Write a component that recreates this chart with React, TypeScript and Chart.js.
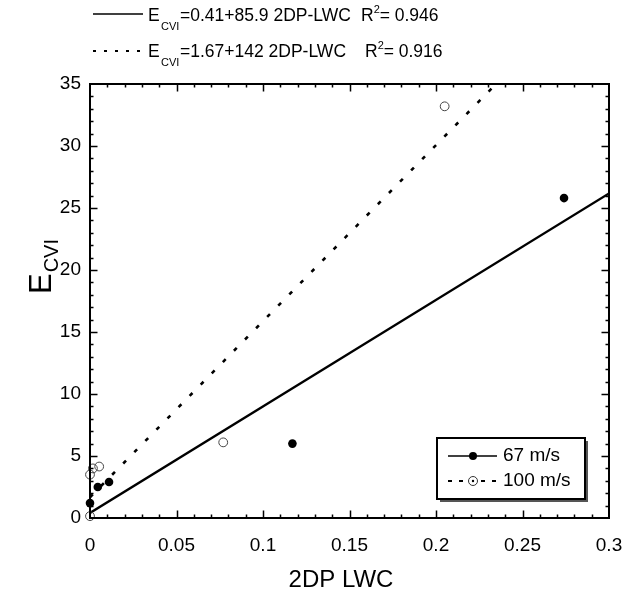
import React, { useEffect, useRef } from "react";
import { Chart, registerables } from "chart.js";

Chart.register(...registerables);

const FONT = "'Liberation Sans', Arial, Helvetica, sans-serif";

// Measured data (2DP LWC vs E_CVI)
const lwc67 = [0, 0.0045, 0.011, 0.117, 0.274];
const ecvi67 = [1.2, 2.5, 2.9, 6.0, 25.8];
const lwc100 = [0, 0, 0.0017, 0.0053, 0.077, 0.205];
const ecvi100 = [0.15, 3.5, 4.0, 4.15, 6.1, 33.2];

// Regression line end points (from the printed fits)
const fit67X = [0, 0.3];
const fit67Y = [0.41, 26.18];
const fit100X = [0, 0.2347];
const fit100Y = [1.67, 35];

// Axis ticks
const xTickValues = [0, 0.05, 0.1, 0.15, 0.2, 0.25, 0.3];
const xTickLabels = ["0", "0.05", "0.1", "0.15", "0.2", "0.25", "0.3"];
const yTickValues = [0, 5, 10, 15, 20, 25, 30, 35];
const yTickLabels = ["0", "5", "10", "15", "20", "25", "30", "35"];
const xMinorStep = 0.01;
const yMinorStep = 1;

// Texts
const seriesLabels = ["67 m/s", "100 m/s"];
const fitTexts = [
  { pre: "=0.41+85.9 2DP-LWC", r2: "= 0.946" },
  { pre: "=1.67+142 2DP-LWC", r2: "= 0.916" },
];
const xTitle = "2DP LWC";
const yTitleMain = "E";
const yTitleSub = "CVI";

function font(size: number) {
  return `${size}px ${FONT}`;
}

const decorPlugin = {
  id: "decor",
  afterDraw(chart: any) {
    const ctx = chart.ctx as CanvasRenderingContext2D;
    const { left, right, top, bottom } = chart.chartArea;
    const xs = chart.scales.x;
    const ys = chart.scales.y;
    ctx.save();
    ctx.strokeStyle = "#000";
    ctx.fillStyle = "#000";

    // frame
    ctx.lineWidth = 2;
    ctx.setLineDash([]);
    ctx.strokeRect(left, top, right - left, bottom - top);

    // ticks
    ctx.lineWidth = 1.5;
    const nx = Math.round((xs.max - xs.min) / xMinorStep);
    for (let i = 1; i < nx; i++) {
      const v = xs.min + i * xMinorStep;
      const px = Math.round(xs.getPixelForValue(v)) + 0.5;
      const major = i % 5 === 0;
      const len = major ? 7.5 : 3.5;
      ctx.beginPath();
      ctx.moveTo(px, bottom);
      ctx.lineTo(px, bottom - len);
      ctx.moveTo(px, top);
      ctx.lineTo(px, top + len);
      ctx.stroke();
    }
    const ny = Math.round((ys.max - ys.min) / yMinorStep);
    for (let i = 1; i < ny; i++) {
      const v = ys.min + i * yMinorStep;
      const py = Math.round(ys.getPixelForValue(v)) + 0.5;
      const major = i % 5 === 0;
      const len = major ? 7.5 : 3.5;
      ctx.beginPath();
      ctx.moveTo(left, py);
      ctx.lineTo(left + len, py);
      ctx.moveTo(right, py);
      ctx.lineTo(right - len, py);
      ctx.stroke();
    }

    // x title
    ctx.font = font(24);
    ctx.textAlign = "center";
    ctx.textBaseline = "alphabetic";
    ctx.fillText(xTitle, 341, 587);

    // y title (rotated)
    ctx.save();
    ctx.translate(51, 294);
    ctx.rotate(-Math.PI / 2);
    ctx.textAlign = "left";
    ctx.font = font(31);
    ctx.fillText(yTitleMain, 0, 0);
    const ew = ctx.measureText(yTitleMain).width;
    ctx.font = font(20);
    ctx.fillText(yTitleSub, ew + 1, 7);
    ctx.restore();

    // top legend (fit equations)
    const rows = [
      { y: 21, lineY: 14, dash: [] as number[], rX: 361 },
      { y: 57, lineY: 51, dash: [3, 8], rX: 365 },
    ];
    rows.forEach((row, i) => {
      ctx.lineWidth = i === 0 ? 1.5 : 2;
      ctx.setLineDash(row.dash);
      ctx.beginPath();
      ctx.moveTo(93, row.lineY);
      ctx.lineTo(143, row.lineY);
      ctx.stroke();
      ctx.setLineDash([]);
      ctx.textAlign = "left";
      ctx.font = font(17.5);
      ctx.fillText("E", 148, row.y);
      ctx.font = font(11);
      ctx.fillText("CVI", 161, row.y + 9);
      ctx.font = font(17.5);
      ctx.fillText(fitTexts[i].pre, 180, row.y);
      ctx.fillText("R", row.rX, row.y);
      const rw = ctx.measureText("R").width;
      ctx.font = font(11);
      ctx.fillText("2", row.rX + rw, row.y - 8);
      ctx.font = font(17.5);
      ctx.fillText(fitTexts[i].r2, row.rX + rw + 6, row.y);
    });

    // in-plot legend box
    const bx = 437, by = 438, bw = 148, bh = 61;
    ctx.fillStyle = "#555";
    ctx.fillRect(bx + 3, by + 3, bw, bh);
    ctx.fillStyle = "#fff";
    ctx.fillRect(bx, by, bw, bh);
    ctx.strokeStyle = "#000";
    ctx.lineWidth = 2;
    ctx.strokeRect(bx, by, bw, bh);
    ctx.fillStyle = "#000";

    // entry 1
    ctx.lineWidth = 1.5;
    ctx.beginPath();
    ctx.moveTo(448, 456);
    ctx.lineTo(497, 456);
    ctx.stroke();
    ctx.beginPath();
    ctx.arc(473, 456, 4, 0, Math.PI * 2);
    ctx.fill();
    ctx.font = font(19);
    ctx.textBaseline = "middle";
    ctx.fillText(seriesLabels[0], 503, 456);

    // entry 2
    ctx.lineWidth = 2;
    ctx.setLineDash([4, 7]);
    ctx.beginPath();
    ctx.moveTo(448, 481);
    ctx.lineTo(497, 481);
    ctx.stroke();
    ctx.setLineDash([]);
    ctx.fillStyle = "#fff";
    ctx.beginPath();
    ctx.arc(473, 481, 4.5, 0, Math.PI * 2);
    ctx.fill();
    ctx.lineWidth = 1;
    ctx.strokeStyle = "#333";
    ctx.stroke();
    ctx.fillStyle = "#000";
    ctx.beginPath();
    ctx.arc(473, 481, 1.2, 0, Math.PI * 2);
    ctx.fill();
    ctx.fillText(seriesLabels[1], 503, 481);

    ctx.restore();
  },
};

export default function App() {
  const ref = useRef<HTMLCanvasElement | null>(null);

  useEffect(() => {
    document.body.style.margin = "0";
    const canvas = ref.current;
    if (!canvas) return;

    const chart = new Chart(canvas, {
      type: "scatter",
      data: {
        datasets: [
          {
            label: seriesLabels[0],
            data: lwc67.map((x, i) => ({ x, y: ecvi67[i] })),
            backgroundColor: "#000",
            borderColor: "#000",
            pointRadius: 4.3,
            borderWidth: 0,
            showLine: false,
            clip: false,
            order: 0,
          } as any,
          {
            label: seriesLabels[1],
            data: lwc100.map((x, i) => ({ x, y: ecvi100[i] })),
            backgroundColor: "rgba(255,255,255,0)",
            borderColor: "#444",
            pointRadius: 4.4,
            borderWidth: 1,
            showLine: false,
            clip: false,
            order: 0,
          } as any,
          {
            label: "fit 67",
            data: fit67X.map((x, i) => ({ x, y: fit67Y[i] })),
            borderColor: "#000",
            borderWidth: 2.3,
            pointRadius: 0,
            showLine: true,
            order: 1,
          } as any,
          {
            label: "fit 100",
            data: fit100X.map((x, i) => ({ x, y: fit100Y[i] })),
            borderColor: "#000",
            borderWidth: 2.6,
            borderDash: [4, 11.8],
            pointRadius: 0,
            showLine: true,
            order: 1,
          } as any,
        ],
      },
      options: {
        responsive: false,
        animation: false,
        devicePixelRatio: 1,
        layout: { padding: { left: 0, right: 13, top: 84, bottom: 0 } },
        plugins: {
          legend: { display: false },
          tooltip: { enabled: false },
          title: { display: false },
        },
        scales: {
          x: {
            type: "linear",
            min: 0,
            max: 0.3,
            grid: { display: false, drawTicks: false },
            border: { display: false },
            afterFit: (s: any) => {
              s.height = 72;
              s.paddingLeft = 0;
              s.paddingRight = 0;
            },
            afterBuildTicks: (s: any) => {
              s.ticks = xTickValues.map((v) => ({ value: v }));
            },
            ticks: {
              color: "#000",
              font: { family: FONT, size: 19 },
              padding: 16,
              maxRotation: 0,
              autoSkip: false,
              callback: (_v: any, i: number) => xTickLabels[i],
            },
          },
          y: {
            type: "linear",
            min: 0,
            max: 35,
            grid: { display: false, drawTicks: false },
            border: { display: false },
            afterFit: (s: any) => {
              s.width = 90;
              s.paddingTop = 0;
              s.paddingBottom = 0;
            },
            afterBuildTicks: (s: any) => {
              s.ticks = yTickValues.map((v) => ({ value: v }));
            },
            ticks: {
              color: "#000",
              font: { family: FONT, size: 19 },
              padding: 9,
              autoSkip: false,
              callback: (_v: any, i: number) => yTickLabels[i],
            },
          },
        },
      } as any,
      plugins: [decorPlugin],
    });

    return () => {
      chart.destroy();
    };
  }, []);

  return (
    <div style={{ width: 622, height: 590, background: "#fff" }}>
      <canvas ref={ref} width={622} height={590} style={{ display: "block", width: 622, height: 590 }} />
    </div>
  );
}
